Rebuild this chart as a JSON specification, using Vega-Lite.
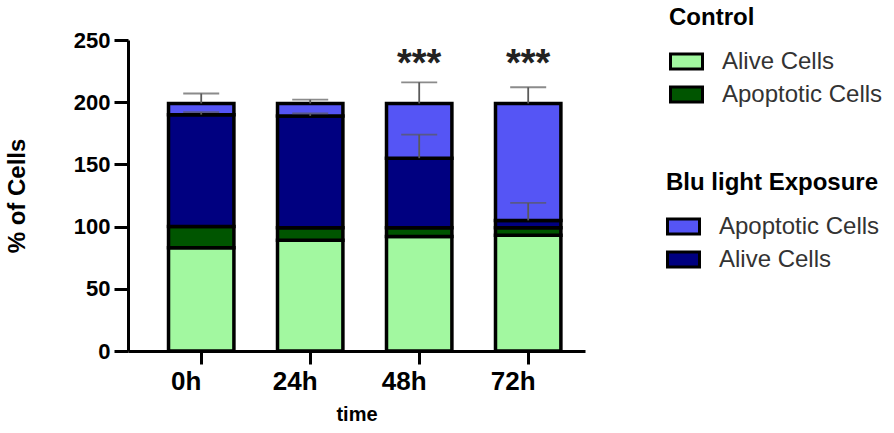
{
  "$schema": "https://vega.github.io/schema/vega-lite/v6.json",
  "width": 457,
  "height": 311,
  "autosize": "none",
  "padding": {"left": 128, "top": 40, "right": 309, "bottom": 82},
  "background": "white",
  "config": {
    "view": {"stroke": null},
    "font": "Liberation Sans",
    "axis": {"domainColor": "black", "tickColor": "black", "labelColor": "black", "titleColor": "black", "grid": false, "labelFont": "Liberation Sans", "titleFont": "Liberation Sans", "labelFontWeight": "bold", "titleFontWeight": "bold"},
    "axisY": {"domainWidth": 3, "tickWidth": 3, "tickSize": 14, "labelFontSize": 22, "titleFontSize": 24, "labelPadding": 4, "titlePadding": 44},
    "axisX": {"domainWidth": 3, "tickWidth": 3, "tickSize": 13, "labelFontSize": 26, "titleFontSize": 20, "labelPadding": 4, "titlePadding": 10, "labelAngle": 0, "labelOffset": -15},
    "legend": {"padding": 0, "titleFont": "Liberation Sans", "labelFont": "Liberation Sans", "titleFontSize": 24, "titleFontWeight": "bold", "titleColor": "black", "titleLimit": 400, "labelLimit": 400, "labelFontSize": 24, "labelColor": "#333333", "titlePadding": 14, "rowPadding": 1, "labelOffset": 18, "symbolType": "M-1,-0.47H1V0.47H-1Z", "symbolSize": 1024, "symbolStrokeColor": "black", "symbolStrokeWidth": 3, "symbolOpacity": 1}
  },
  "datasets": {
    "segments": [
      {"time": "0h", "group": "Control", "type": "Alive Cells", "order": 1, "value": 83},
      {"time": "0h", "group": "Control", "type": "Apoptotic Cells", "order": 2, "value": 17},
      {"time": "0h", "group": "Blu", "type": "Alive Cells", "order": 3, "value": 90},
      {"time": "0h", "group": "Blu", "type": "Apoptotic Cells", "order": 4, "value": 9},
      {"time": "24h", "group": "Control", "type": "Alive Cells", "order": 1, "value": 89},
      {"time": "24h", "group": "Control", "type": "Apoptotic Cells", "order": 2, "value": 10},
      {"time": "24h", "group": "Blu", "type": "Alive Cells", "order": 3, "value": 90},
      {"time": "24h", "group": "Blu", "type": "Apoptotic Cells", "order": 4, "value": 10},
      {"time": "48h", "group": "Control", "type": "Alive Cells", "order": 1, "value": 92},
      {"time": "48h", "group": "Control", "type": "Apoptotic Cells", "order": 2, "value": 7},
      {"time": "48h", "group": "Blu", "type": "Alive Cells", "order": 3, "value": 56},
      {"time": "48h", "group": "Blu", "type": "Apoptotic Cells", "order": 4, "value": 44},
      {"time": "72h", "group": "Control", "type": "Alive Cells", "order": 1, "value": 93},
      {"time": "72h", "group": "Control", "type": "Apoptotic Cells", "order": 2, "value": 6},
      {"time": "72h", "group": "Blu", "type": "Alive Cells", "order": 3, "value": 6},
      {"time": "72h", "group": "Blu", "type": "Apoptotic Cells", "order": 4, "value": 94}
    ],
    "errors": [
      {"time": "0h", "low": 199, "high": 207},
      {"time": "0h", "low": 190, "high": 192},
      {"time": "24h", "low": 199, "high": 202},
      {"time": "24h", "low": 189, "high": 191},
      {"time": "48h", "low": 199, "high": 216},
      {"time": "48h", "low": 155, "high": 174},
      {"time": "72h", "low": 199, "high": 212},
      {"time": "72h", "low": 105, "high": 119}
    ],
    "stars": [
      {"time": "48h", "y": 221, "label": "***"},
      {"time": "72h", "y": 221, "label": "***"}
    ]
  },
  "layer": [
    {
      "data": {"name": "segments"},
      "transform": [
        {"stack": "value", "groupby": ["time"], "sort": [{"field": "order", "order": "ascending"}], "as": ["y0", "y1"]},
        {"filter": "datum.group === 'Control'"}
      ],
      "mark": {"type": "bar", "stroke": "black", "strokeWidth": 3.5},
      "encoding": {
        "x": {"field": "time", "type": "nominal", "sort": ["0h", "24h", "48h", "72h"], "title": "time", "scale": {"paddingInner": 0.4, "paddingOuter": 0.2965, "align": 0.627}},
        "y": {"field": "y0", "type": "quantitative", "title": "% of Cells", "scale": {"domain": [0, 250], "nice": false}, "axis": {"values": [0, 50, 100, 150, 200, 250]}},
        "y2": {"field": "y1"},
        "color": {"field": "type", "type": "nominal", "scale": {"domain": ["Alive Cells", "Apoptotic Cells"], "range": ["#a2f8a0", "#005500"]}, "legend": {"title": "Control", "orient": "none", "legendX": 541, "legendY": -34}}
      }
    },
    {
      "data": {"name": "segments"},
      "transform": [
        {"stack": "value", "groupby": ["time"], "sort": [{"field": "order", "order": "ascending"}], "as": ["y0", "y1"]},
        {"filter": "datum.group === 'Blu'"}
      ],
      "mark": {"type": "bar", "stroke": "black", "strokeWidth": 3.5},
      "encoding": {
        "x": {"field": "time", "type": "nominal", "sort": ["0h", "24h", "48h", "72h"], "title": "time"},
        "y": {"field": "y0", "type": "quantitative", "title": "% of Cells", "scale": {"domain": [0, 250], "nice": false}, "axis": {"values": [0, 50, 100, 150, 200, 250]}},
        "y2": {"field": "y1"},
        "color": {"field": "type", "type": "nominal", "scale": {"domain": ["Apoptotic Cells", "Alive Cells"], "range": ["#5555f5", "#000080"]}, "legend": {"title": "Blu light Exposure", "orient": "none", "legendX": 538, "legendY": 131}}
      }
    },
    {
      "data": {"name": "errors"},
      "mark": {"type": "rule", "color": "#5a5a5a", "strokeWidth": 1.8},
      "encoding": {
        "x": {"field": "time", "type": "nominal", "sort": ["0h", "24h", "48h", "72h"], "title": "time"},
        "y": {"field": "low", "type": "quantitative", "title": "% of Cells", "scale": {"domain": [0, 250], "nice": false}, "axis": {"values": [0, 50, 100, 150, 200, 250]}},
        "y2": {"field": "high"}
      }
    },
    {
      "data": {"name": "errors"},
      "mark": {"type": "tick", "orient": "horizontal", "color": "#5a5a5a", "size": 36, "thickness": 1.8},
      "encoding": {
        "x": {"field": "time", "type": "nominal", "sort": ["0h", "24h", "48h", "72h"], "title": "time"},
        "y": {"field": "high", "type": "quantitative", "title": "% of Cells", "scale": {"domain": [0, 250], "nice": false}, "axis": {"values": [0, 50, 100, 150, 200, 250]}}
      }
    },
    {
      "data": {"name": "stars"},
      "mark": {"type": "text", "fontSize": 38, "fontWeight": "bold", "font": "Liberation Sans", "baseline": "alphabetic", "align": "center", "color": "#222222"},
      "encoding": {
        "x": {"field": "time", "type": "nominal", "sort": ["0h", "24h", "48h", "72h"], "title": "time"},
        "y": {"field": "y", "type": "quantitative", "title": "% of Cells", "scale": {"domain": [0, 250], "nice": false}, "axis": {"values": [0, 50, 100, 150, 200, 250]}},
        "text": {"field": "label"}
      }
    }
  ],
  "resolve": {"scale": {"color": "independent"}, "legend": {"color": "independent"}}
}
